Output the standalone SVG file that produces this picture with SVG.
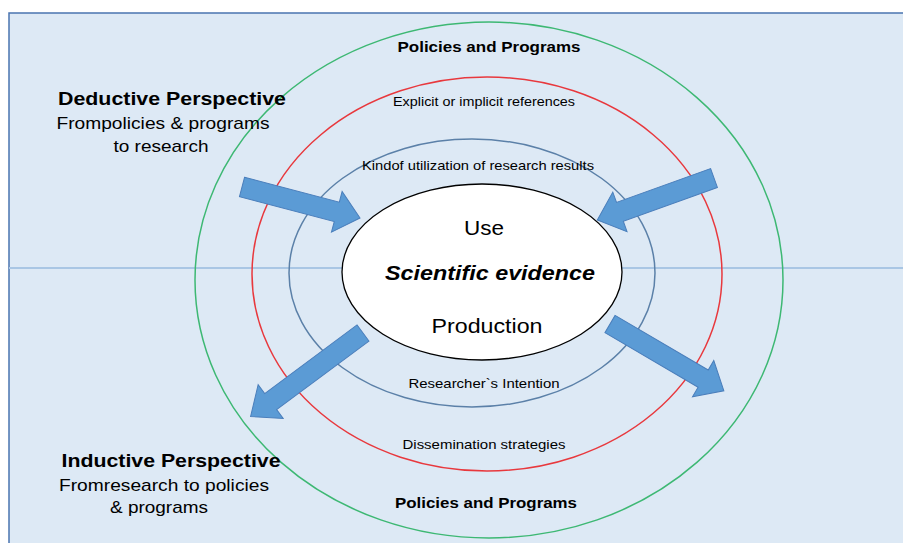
<svg xmlns="http://www.w3.org/2000/svg" width="903" height="543" viewBox="0 0 903 543">
<style>
text{font-family:"Liberation Sans",Arial,sans-serif;fill:#000;text-anchor:middle}
.b{font-weight:bold}
.ring{fill:none;stroke-width:1.5}
.arr{fill:#5B9BD5;stroke:#4A7EBB;stroke-width:1}
</style>
<rect x="9" y="13" width="900" height="540" fill="#DDE9F5" stroke="#4A74B0" stroke-width="1.5"/>
<line x1="9" y1="268" x2="903" y2="268" stroke="#A9C6E4" stroke-width="2"/>
<g id="ring-policies"><ellipse class="ring" cx="489" cy="280" rx="294" ry="258" stroke="#3DB873"/></g>
<g id="ring-references"><ellipse class="ring" cx="487" cy="274" rx="235" ry="197" stroke="#E8383D"/></g>
<g id="ring-utilization"><ellipse class="ring" cx="472" cy="273" rx="183" ry="134" stroke="#5B80A8"/></g>
<g id="core"><ellipse cx="482" cy="272" rx="140" ry="88" fill="#fff" stroke="#000" stroke-width="1.3"/>
<text x="484" y="235" font-size="20" textLength="40" lengthAdjust="spacingAndGlyphs">Use</text>
<text x="490" y="280" font-size="21" class="b" font-style="italic" textLength="210" lengthAdjust="spacingAndGlyphs">Scientific evidence</text>
<text x="487" y="333" font-size="20" textLength="111" lengthAdjust="spacingAndGlyphs">Production</text>
</g>
<g id="connectors">
<path class="arr" transform="translate(242,187) rotate(14.7)" d="M0,-10 L98,-10 L98,-21 L122,0 L98,21 L98,10 L0,10 Z"/>
<path class="arr" transform="translate(714,178) rotate(160.2)" d="M0,-10 L100,-10 L100,-21 L124,0 L100,21 L100,10 L0,10 Z"/>
<path class="arr" transform="translate(363,333) rotate(143.4)" d="M0,-10 L115,-10 L115,-21 L140,0 L115,21 L115,10 L0,10 Z"/>
<path class="arr" transform="translate(610,324) rotate(30.4)" d="M0,-10 L108,-10 L108,-21 L132,0 L108,21 L108,10 L0,10 Z"/>
</g>
<g id="labels">
<text x="489" y="52" font-size="15" class="b" textLength="183" lengthAdjust="spacingAndGlyphs">Policies and Programs</text>
<text x="486" y="508" font-size="15" class="b" textLength="182" lengthAdjust="spacingAndGlyphs">Policies and Programs</text>
<text x="484" y="106" font-size="13" textLength="182" lengthAdjust="spacingAndGlyphs">Explicit or implicit references</text>
<text x="478" y="170" font-size="13" textLength="232" lengthAdjust="spacingAndGlyphs">Kindof utilization of research results</text>
<text x="484" y="388" font-size="13" textLength="151" lengthAdjust="spacingAndGlyphs">Researcher`s Intention</text>
<text x="484" y="449" font-size="13" textLength="163" lengthAdjust="spacingAndGlyphs">Dissemination strategies</text>
</g>
<g id="deductive">
<text x="172" y="105" font-size="19" class="b" textLength="228" lengthAdjust="spacingAndGlyphs">Deductive Perspective</text>
<text x="163" y="129" font-size="17" textLength="213" lengthAdjust="spacingAndGlyphs">Frompolicies &amp; programs</text>
<text x="161" y="152" font-size="17" textLength="95" lengthAdjust="spacingAndGlyphs">to research</text>
</g>
<g id="inductive">
<text x="171" y="467" font-size="19" class="b" textLength="219" lengthAdjust="spacingAndGlyphs">Inductive Perspective</text>
<text x="164" y="491" font-size="17" textLength="210" lengthAdjust="spacingAndGlyphs">Fromresearch to policies</text>
<text x="159" y="513" font-size="17" textLength="98" lengthAdjust="spacingAndGlyphs">&amp; programs</text>
</g>
</svg>
